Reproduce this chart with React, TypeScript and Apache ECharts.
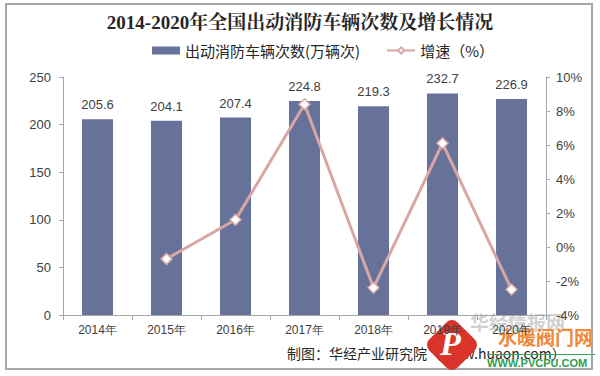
import React, { useEffect, useRef } from "react";
import * as echarts from "echarts";

const categories = ["2014年", "2015年", "2016年", "2017年", "2018年", "2019年", "2020年"];
const trips = [205.6, 204.1, 207.4, 224.8, 219.3, 232.7, 226.9];
const growth = [null, -0.7, 1.6, 8.4, -2.4, 6.1, -2.5];
const title = "2014-2020年全国出动消防车辆次数及增长情况";
const barName = "出动消防车辆次数(万辆次)";
const lineName = "增速（%）";
const source = "制图：华经产业研究院（www.huaon.com）";

export default function App() {
  const ref = useRef<HTMLDivElement>(null);
  useEffect(() => {
    const chart = echarts.init(ref.current!, null, { renderer: "svg" });
    const axisText = { color: "#404040", fontSize: 12, fontFamily: "Arial, 'Liberation Sans', sans-serif" };
    chart.setOption({
      animation: false,
      backgroundColor: "#ffffff",
      title: {
        text: title,
        left: "center",
        top: 8,
        textStyle: { fontSize: 19, fontWeight: "bold", color: "#262626", fontFamily: "'Liberation Serif', 'Noto Serif CJK SC', serif" },
      },
      legend: {
        top: 38,
        left: 147,
        itemGap: 26,
        itemWidth: 28,
        itemHeight: 8,
        textStyle: { fontSize: 15, color: "#262626", fontFamily: "'Noto Sans CJK SC', sans-serif" },
        data: [
          { name: barName, icon: "rect", itemStyle: { color: "#66729A" } },
          { name: lineName },
        ],
      },
      grid: { left: 63, right: 54, top: 77, bottom: 61 },
      xAxis: {
        type: "category",
        data: categories,
        axisLine: { lineStyle: { color: "#A6A6A6" } },
        axisTick: { show: true, alignWithLabel: false, lineStyle: { color: "#A6A6A6" } },
        axisLabel: { ...axisText, margin: 9 },
      },
      yAxis: [
        {
          type: "value",
          min: 0,
          max: 250,
          interval: 50,
          axisLine: { show: true, lineStyle: { color: "#A6A6A6" } },
          axisTick: { show: true, length: 4, lineStyle: { color: "#A6A6A6" } },
          splitLine: { show: false },
          axisLabel: { ...axisText, fontSize: 13, margin: 12 },
        },
        {
          type: "value",
          min: -4,
          max: 10,
          interval: 2,
          position: "right",
          axisLine: { show: true, lineStyle: { color: "#A6A6A6" } },
          axisTick: { show: true, length: 4, lineStyle: { color: "#A6A6A6" } },
          splitLine: { show: false },
          axisLabel: { ...axisText, fontSize: 13, margin: 10, formatter: "{value}%" },
        },
      ],
      series: [
        {
          name: barName,
          type: "bar",
          data: trips,
          barWidth: "45%",
          itemStyle: { color: "#66729A" },
          label: {
            show: true,
            position: "top",
            distance: 8,
            fontSize: 13,
            color: "#404040",
            fontFamily: "Arial, 'Liberation Sans', sans-serif",
            formatter: (p: any) => p.value.toFixed(1),
          },
        },
        {
          name: lineName,
          type: "line",
          yAxisIndex: 1,
          data: growth,
          symbol: "diamond",
          symbolSize: 11,
          lineStyle: { color: "#D8A7A5", width: 3 },
          itemStyle: { color: "#ffffff", borderColor: "#D8A7A5", borderWidth: 1.5 },
          connectNulls: false,
        },
      ],
      graphic: [
        {
          type: "rect",
          shape: { x: 6, y: 4, width: 586, height: 365 },
          style: { fill: "none", stroke: "#A6A6A6", lineWidth: 2 },
          silent: true,
        },
        {
          type: "text",
          x: 287,
          y: 346,
          style: { text: source, fontSize: 14, fill: "#262626", fontFamily: "'Noto Sans CJK SC', sans-serif" },
        },
        {
          type: "text",
          x: 470,
          y: 312,
          style: { text: "华经情报网", fontSize: 19, fill: "rgba(170,170,170,0.55)", fontWeight: "bold", fontFamily: "'Noto Sans CJK SC', sans-serif" },
        },
        {
          type: "rect",
          x: 452,
          y: 345,
          rotation: Math.PI / 4,
          shape: { x: -20, y: -20, width: 40, height: 40, r: 8 },
          style: { fill: "#D9342B" },
        },
        {
          type: "text",
          x: 440,
          y: 326,
          style: { text: "P", fontSize: 34, fontStyle: "italic", fontWeight: "bold", fill: "#ffffff", fontFamily: "'Liberation Serif', serif" },
        },
        {
          type: "text",
          x: 498,
          y: 327,
          style: { text: "水暖阀门网", fontSize: 19, fontWeight: "bold", fill: "#F0893A", fontFamily: "'Noto Sans CJK SC', sans-serif" },
        },
        {
          type: "rect",
          shape: { x: 487, y: 354, width: 108, height: 1 },
          style: { fill: "#3BA55C" },
        },
        {
          type: "text",
          x: 487,
          y: 357,
          style: { text: "WWW.PVCPU.COM", fontSize: 11, fontWeight: "bold", fill: "#2E9E50", fontFamily: "'Liberation Sans', Arial, sans-serif" },
        },
      ],
    });
    return () => chart.dispose();
  }, []);
  return <div ref={ref} style={{ position: "fixed", left: 0, top: 0, width: 600, height: 376 }} />;
}
